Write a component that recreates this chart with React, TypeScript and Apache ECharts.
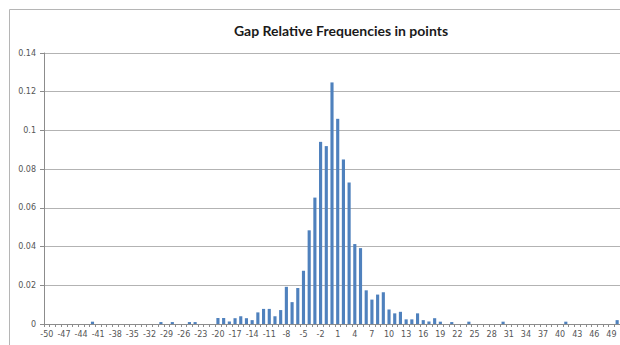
import React, { useEffect, useRef } from "react";
import * as echarts from "echarts";

const categories: string[] = [];
for (let v = -50; v <= 50; v++) categories.push(String(v));

// relative frequency for gaps -50 .. 50
const values: number[] = [
  // -50 .. -41
  0, 0, 0, 0, 0, 0, 0, 0, 0.0012, 0,
  // -40 .. -31
  0, 0, 0, 0, 0, 0, 0, 0, 0, 0,
  // -30 .. -21
  0.001, 0, 0.001, 0, 0, 0.001, 0.001, 0, 0, 0,
  // -20 .. -11
  0.0031, 0.0031, 0.0013, 0.003, 0.004, 0.003, 0.002, 0.006, 0.0078, 0.0078,
  // -10 .. -1
  0.004, 0.0072, 0.0192, 0.0113, 0.0186, 0.0275, 0.0484, 0.0653, 0.0941, 0.0919,
  // 0 .. 9
  0.1248, 0.106, 0.085, 0.0731, 0.0413, 0.0392, 0.0174, 0.0126, 0.0152, 0.0164,
  // 10 .. 19
  0.0075, 0.0055, 0.0063, 0.0024, 0.0024, 0.0055, 0.002, 0.0013, 0.003, 0.0012,
  // 20 .. 29
  0, 0.001, 0, 0, 0.0012, 0, 0, 0, 0, 0,
  // 30 .. 39
  0.0012, 0, 0, 0, 0, 0, 0, 0, 0, 0,
  // 40 .. 49
  0, 0.0012, 0, 0, 0, 0, 0, 0, 0, 0,
  // 50
  0.002,
];

const yTicks = [0, 0.02, 0.04, 0.06, 0.08, 0.1, 0.12, 0.14];

export default function App() {
  const ref = useRef<HTMLDivElement>(null);
  useEffect(() => {
    if (!ref.current) return;
    const chart = echarts.init(ref.current, undefined, { renderer: "svg" });
    chart.setOption({
      animation: false,
      backgroundColor: "#ffffff",
      title: {
        text: "Gap Relative Frequencies in points",
        left: 336,
        top: 18,
        textAlign: "center",
        textStyle: {
          fontFamily: "Lato",
          fontWeight: "bold",
          fontSize: 14,
          color: "#1a1a1a",
        },
      },
      graphic: [
        {
          type: "rect",
          shape: { x: 9.5, y: 9.5, width: 640, height: 360 },
          style: { fill: "none", stroke: "#b5b5b5", lineWidth: 1 },
          silent: true,
        },
      ],
      grid: { left: 44, right: 0, top: 53, bottom: 21, containLabel: false },
      xAxis: {
        type: "category",
        data: categories,
        axisLine: { lineStyle: { color: "#8c8c8c", width: 1 } },
        axisTick: { show: true, interval: 0, length: 3, lineStyle: { color: "#8c8c8c" } },
        axisLabel: {
          interval: 2,
          fontSize: 8,
          color: "#555555",
          fontFamily: "DejaVu Sans",
          margin: 6,
        },
      },
      yAxis: {
        type: "value",
        min: 0,
        max: 0.14,
        interval: 0.02,
        axisLine: { show: true, lineStyle: { color: "#8c8c8c", width: 1 } },
        axisTick: { show: true, length: 4, lineStyle: { color: "#8c8c8c" } },
        splitLine: { lineStyle: { color: "#b3b3b3", width: 1 } },
        axisLabel: {
          fontSize: 8,
          color: "#555555",
          fontFamily: "DejaVu Sans",
          margin: 8,
          formatter: (v: number) => {
            const t = yTicks.find((x) => Math.abs(x - v) < 1e-9);
            return String(Math.round((t ?? v) * 100) / 100);
          },
        },
      },
      series: [
        {
          type: "bar",
          data: values,
          barCategoryGap: "45%",
          itemStyle: { color: "#4f81bd" },
        },
      ],
    });
    return () => chart.dispose();
  }, []);
  return (
    <div
      ref={ref}
      style={{ position: "absolute", left: 0, top: 0, width: 620, height: 345 }}
    />
  );
}
